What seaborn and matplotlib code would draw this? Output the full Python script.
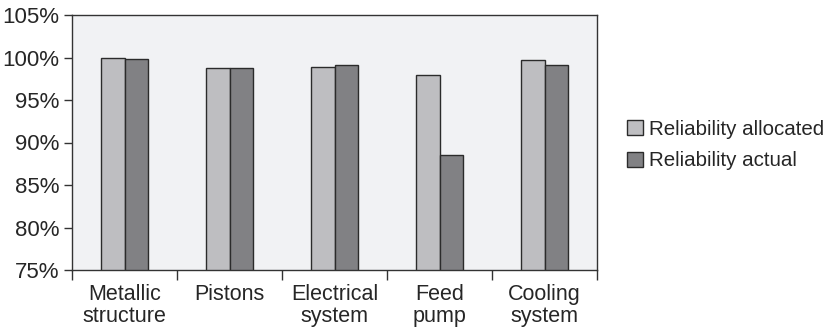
import numpy as np
import pandas as pd
import seaborn as sns
import matplotlib.pyplot as plt
from matplotlib.ticker import FuncFormatter

# Données (en %)
categories = ["Metallic\nstructure", "Pistons", "Electrical\nsystem", "Feed\npump", "Cooling\nsystem"]
allocated = [100.0, 98.8, 98.9, 97.9, 99.7]
actual = [99.8, 98.8, 99.1, 88.5, 99.1]
series_names = ["Reliability allocated", "Reliability actual"]

df = pd.DataFrame({
    "component": categories * 2,
    "reliability": allocated + actual,
    "series": [series_names[0]] * len(categories) + [series_names[1]] * len(categories),
})

sns.set_style("white")
plt.rcParams['font.family'] = ['Liberation Sans', 'DejaVu Sans']

fig = plt.figure(figsize=(8.32, 3.28), dpi=100)
ax = fig.add_axes([72 / 832, 1 - 270 / 328, 525 / 832, 255 / 328])
ax.set_facecolor("#f1f2f4")

sns.barplot(
    data=df, x="component", y="reliability", hue="series",
    palette=["#bdbec2", "#808185"], width=0.44, gap=0,
    edgecolor="#2b2b2b", linewidth=1.0, ax=ax,
)

# bars start at the bottom of the axis (75%)
ax.set_ylim(75, 105)
ax.set_xlim(-0.5, len(categories) - 0.5)
ax.set_yticks(np.arange(75, 106, 5))
ax.yaxis.set_major_formatter(FuncFormatter(lambda v, p: f"{v:.0f}%"))

ax.set_xticks(range(len(categories)))
ax.set_xticklabels(categories, fontsize=15.5, linespacing=1.05)
ax.set_xticks(np.arange(-0.5, len(categories), 1), minor=True)
ax.tick_params(axis="x", which="major", length=0, pad=10)
ax.tick_params(axis="x", which="minor", length=7, width=1, color="#333333", direction="out", bottom=True)
ax.tick_params(axis="y", length=6, width=1, color="#333333", direction="out", left=True,
               labelsize=16, pad=3)

for s in ax.spines.values():
    s.set_color("#333333")
    s.set_linewidth(1.0)

ax.set_xlabel("")
ax.set_ylabel("")

leg = ax.legend(
    loc="center left", bbox_to_anchor=(1.057, 0.49), frameon=False,
    fontsize=14.8, handlelength=0.78, handleheight=0.78, handletextpad=0.3,
    labelspacing=0.62, borderpad=0, borderaxespad=0,
)

fig.savefig("out.png", dpi=100)
